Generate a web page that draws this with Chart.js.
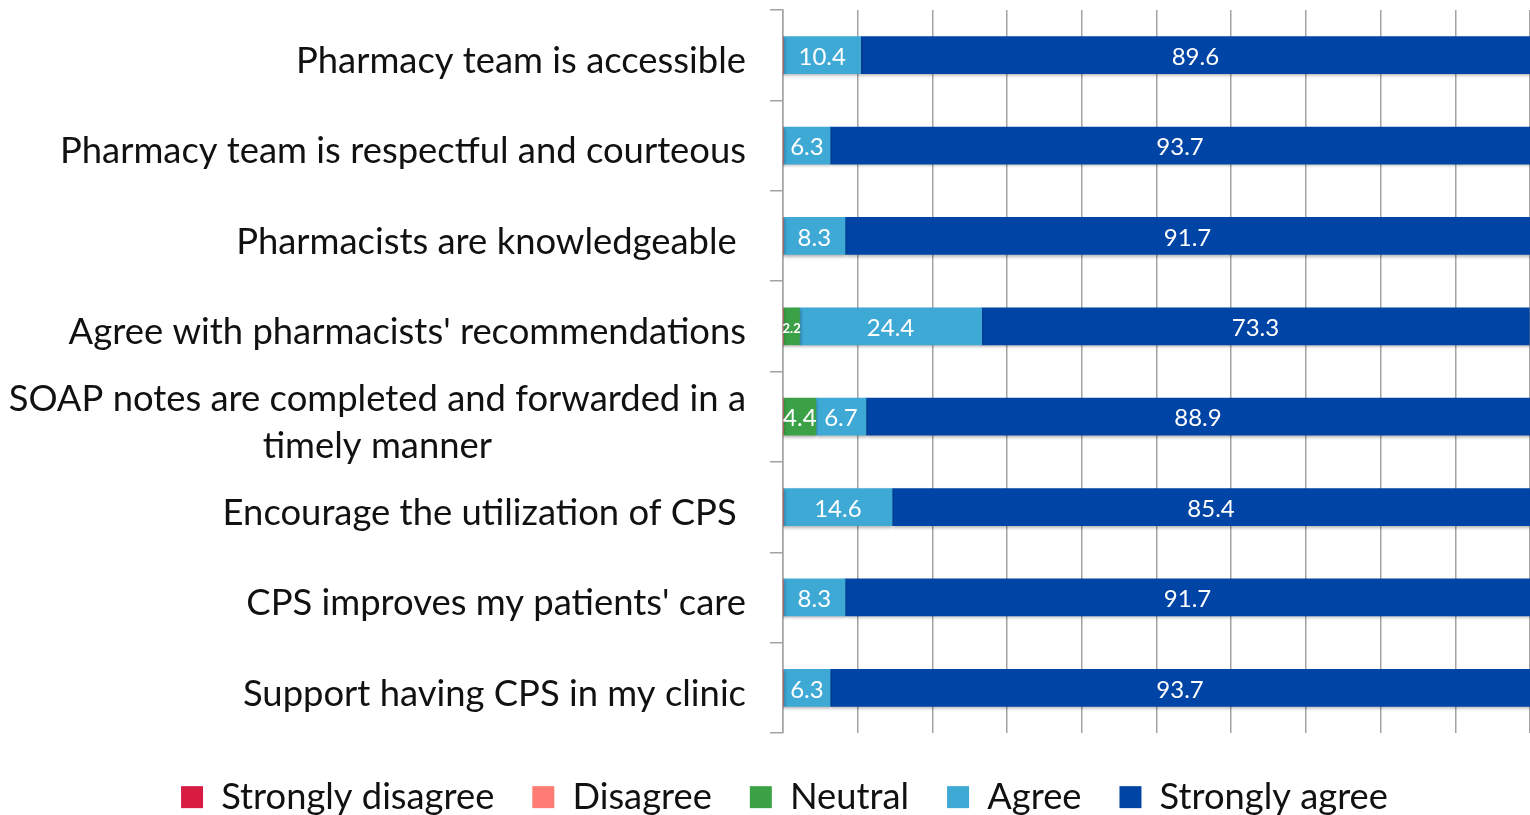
<!DOCTYPE html>
<html>
<head>
<meta charset="utf-8">
<script src="https://cdn.jsdelivr.net/npm/chart.js@4.4.1/dist/chart.umd.min.js"></script>
<style>
  html, body { margin: 0; padding: 0; background: #ffffff; }
  #wrap { width: 1530px; height: 815px; }
</style>
</head>
<body>
<div id="wrap"><canvas id="c" width="1530" height="815"></canvas></div>
<script>
// ---- data ----
const categories = [
  "Pharmacy team is accessible",
  "Pharmacy team is respectful and courteous",
  "Pharmacists are knowledgeable ",
  "Agree with pharmacists' recommendations",
  ["SOAP notes are completed and forwarded in a", "timely manner"],
  "Encourage the utilization of CPS ",
  "CPS improves my patients' care",
  "Support having CPS in my clinic"
];
const seriesNames = ["Strongly disagree", "Disagree", "Neutral", "Agree", "Strongly agree"];
const stronglyDisagree = [0, 0, 0, 0, 0, 0, 0, 0];
const disagree         = [0, 0, 0, 0, 0, 0, 0, 0];
const neutral          = [0, 0, 0, 2.2, 4.4, 0, 0, 0];
const agree            = [10.4, 6.3, 8.3, 24.4, 6.7, 14.6, 8.3, 6.3];
const stronglyAgree    = [89.6, 93.7, 91.7, 73.3, 88.9, 85.4, 91.7, 93.7];
const seriesColors = ["#D71B41", "#FF7C74", "#3BA146", "#3FA9D6", "#0045A5"];

const FONT = "Lato";
const gridColor = "#a3a3a3";

const shadowAndLabels = {
  id: 'shadowAndLabels',
  beforeDatasetsDraw(chart) {
    const ctx = chart.ctx;
    ctx.save();
    ctx.shadowColor = 'rgba(0,0,0,0.30)';
    ctx.shadowBlur = 3;
    ctx.shadowOffsetX = 1;
    ctx.shadowOffsetY = 2;
  },
  afterDatasetsDraw(chart) {
    const ctx = chart.ctx;
    ctx.restore();
    ctx.save();
    ctx.fillStyle = '#ffffff';
    ctx.textAlign = 'center';
    ctx.textBaseline = 'middle';
    chart.data.datasets.forEach((ds, di) => {
      const meta = chart.getDatasetMeta(di);
      meta.data.forEach((el, i) => {
        const v = ds.data[i];
        if (!v) return;
        const w = Math.abs(el.x - el.base);
        const cx = Math.min((el.x + el.base) / 2, (el.base + chart.chartArea.right) / 2);
        ctx.font = (w < 25 ? 'bold 13px ' : '24px ') + FONT;
        ctx.fillText(v.toFixed(1), cx, el.y + 2);
      });
    });
    ctx.restore();
  },
  afterDraw(chart) {
    const ctx = chart.ctx;
    const ys = chart.scales.y;
    ctx.save();
    ctx.font = '36.4px ' + FONT;
    ctx.fillStyle = '#111111';
    ctx.textBaseline = 'middle';
    const xr = ys.right - 37;
    categories.forEach((lab, i) => {
      const cy = ys.getPixelForValue(i) + 6;
      const lines = Array.isArray(lab) ? lab : [lab];
      if (lines.length === 1) {
        ctx.textAlign = 'right';
        ctx.fillText(lines[0], xr, cy);
      } else {
        const w = Math.max(...lines.map(l => ctx.measureText(l).width));
        const cx = xr - w / 2;
        ctx.textAlign = 'center';
        lines.forEach((l, j) => {
          ctx.fillText(l, cx, cy + (j - (lines.length - 1) / 2) * 47);
        });
      }
    });
    ctx.restore();
  }
};

const seriesData = [stronglyDisagree, disagree, neutral, agree, stronglyAgree];

new Chart(document.getElementById('c'), {
  type: 'bar',
  data: {
    labels: categories,
    datasets: seriesNames.map((name, k) => ({
      label: name,
      data: seriesData[k],
      backgroundColor: seriesColors[k],
      borderWidth: 0,
      barThickness: 37
    }))
  },
  options: {
    indexAxis: 'y',
    responsive: false,
    animation: false,
    devicePixelRatio: 1,
    layout: { padding: { top: 10, left: 39, right: 0, bottom: 0 } },
    scales: {
      x: {
        stacked: true,
        min: 0,
        max: 100,
        grid: { color: gridColor, lineWidth: 1.5, drawTicks: false },
        border: { display: false },
        ticks: { display: false, stepSize: 10 }
      },
      y: {
        stacked: true,
        offset: true,
        grid: { drawOnChartArea: false, drawTicks: true, tickLength: 13, color: gridColor, lineWidth: 1.5, offset: true },
        border: { display: true, color: gridColor, width: 1.5 },
        ticks: { display: false },
        afterFit: (s) => { s.width = 783 - 39; }
      }
    },
    plugins: {
      tooltip: { enabled: false },
      legend: {
        position: 'bottom',
        maxHeight: 82,
        title: { display: true, text: '', font: { size: 5 }, padding: { top: 1, bottom: 1 } },
        labels: {
          boxWidth: 22,
          boxHeight: 22,
          padding: 38,
          color: '#111111',
          font: { family: FONT, size: 36.3 }
        }
      }
    }
  },
  plugins: [shadowAndLabels]
});
</script>
</body>
</html>
